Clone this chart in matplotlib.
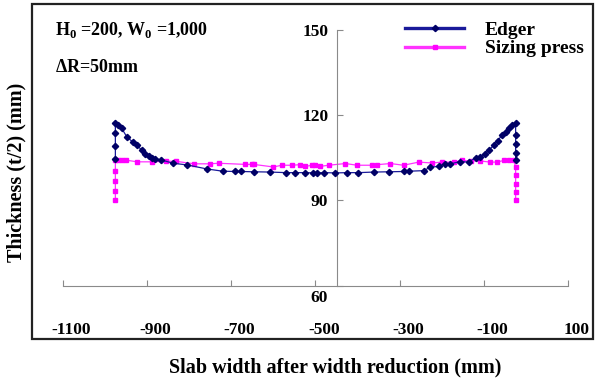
import matplotlib
matplotlib.use('Agg')
import matplotlib.pyplot as plt
from matplotlib.patches import Rectangle
from matplotlib.transforms import ScaledTranslation

plt.rcParams['font.family'] = 'Liberation Serif'
plt.rcParams['font.weight'] = 'bold'
plt.rcParams['mathtext.fontset'] = 'custom'
plt.rcParams['mathtext.rm'] = 'Liberation Serif:bold'
plt.rcParams['mathtext.bf'] = 'Liberation Serif:bold'

# Edger profile (left edge -> right edge)
edger_x = [-975, -975, -975, -975, -968, -960, -948, -934, -923, -912, -904, -896,
           -888, -881, -867, -838, -804, -758, -720, -691, -677, -645, -607, -570,
           -548, -524, -505, -496, -479, -453, -425, -398, -362, -326, -291, -279,
           -243, -228, -208, -192, -180, -156, -136, -120, -109, -98, -89, -77,
           -68, -57, -49, -41, -33, -25, -25, -25, -25, -25]
edger_y = [104.5, 109.1, 113.6, 117.2, 116.6, 115.4, 112.4, 110.6, 109.4, 107.6, 106.5, 105.5,
           104.9, 104.7, 104.3, 103.1, 102.5, 101.1, 100.3, 100.2, 100.2, 100.1, 100.0, 99.8,
           99.8, 99.8, 99.7, 99.7, 99.8, 99.7, 99.8, 99.8, 100.0, 100.1, 100.2, 100.3,
           100.5, 101.7, 102.0, 102.9, 102.9, 103.7, 103.5, 105.1, 105.3, 106.5, 107.6, 109.4,
           111.0, 113.0, 114.2, 115.4, 116.5, 117.4, 113.0, 110.0, 106.8, 104.4]

# Sizing press profile
press_x = [-975, -975, -975, -975, -975, -968, -960, -950, -923, -888, -855, -832,
           -788, -751, -730, -667, -650, -647, -600, -580, -556, -536, -524, -508,
           -500, -489, -469, -429, -401, -366, -354, -322, -291, -255, -223, -200,
           -172, -152, -132, -109, -85, -69, -53, -41, -29, -25, -25, -25, -25, -25]
press_y = [90.1, 93.4, 97.0, 100.5, 104.3, 104.3, 104.2, 104.2, 103.6, 103.6, 103.8, 103.8,
           102.9, 102.9, 103.1, 102.7, 102.7, 102.7, 101.8, 102.4, 102.4, 102.6, 102.0, 102.4,
           102.4, 102.0, 102.4, 103.0, 102.4, 102.4, 102.6, 103.0, 102.4, 103.5, 103.2, 103.5,
           103.5, 104.1, 103.9, 103.9, 103.5, 103.5, 104.1, 104.1, 104.1, 101.8, 98.8, 95.9, 92.9, 90.1]

xticks = [-1100, -900, -700, -500, -300, -100, 100]
yticks = [90, 120, 150]

fig = plt.figure(figsize=(5.95, 3.83), dpi=100)
ax = fig.add_axes([0.1054, 0.2539, 0.8497, 0.6679])

ax.plot(edger_x, edger_y, color='#1a1a9a', lw=0.9, marker='D', ms=3.2,
        mfc='#000066', mec='#000066', label='Edger', zorder=3)
ax.plot(press_x, press_y, color='#ff33ff', lw=0.9, marker='s', ms=3.2,
        mfc='#ff00ff', mec='#ff00ff', label='Sizing press', zorder=2)

ax.set_xlim(-1100, 100)
ax.set_ylim(60, 150)
for s in ['top', 'right']:
    ax.spines[s].set_visible(False)
ax.spines['left'].set_position(('data', -450))
ax.spines['left'].set_color('#8a8a8a')
ax.spines['bottom'].set_color('#8a8a8a')

ax.set_xticks(xticks)
ax.set_xticklabels([str(v) for v in xticks])
ax.set_yticks([60] + yticks)
ax.set_yticklabels([''] + [str(v) for v in yticks])
ax.tick_params(axis='x', direction='in', length=4, color='#8a8a8a', pad=26, labelsize=12.5)
ax.tick_params(axis='y', direction='in', length=4, color='#8a8a8a', pad=6, labelsize=12.5)
shift = ScaledTranslation(6 / 72, 0, fig.dpi_scale_trans)
for lab in ax.get_xticklabels():
    lab.set_transform(lab.get_transform() + shift)
ax.annotate('60', xy=(-450, 60), xytext=(-6, -3), textcoords='offset points',
            ha='right', va='top', fontsize=12.5, annotation_clip=False)

fig.text(0.092, 0.922, r'H$_{0}$ =200, W$_{0}$ =1,000', fontsize=13, va='center')
fig.text(0.092, 0.825, r'$\Delta$R=50mm', fontsize=13, va='center')

leg = ax.legend(loc='upper left', bbox_to_anchor=(0.665, 0.97), bbox_transform=fig.transFigure,
                frameon=False, fontsize=14, numpoints=1, handlelength=3.0,
                handletextpad=1.1, labelspacing=0.05, borderpad=0)
for ln in leg.get_lines():
    ln.set_linewidth(2.4)

fig.text(0.028, 0.551, 'Thickness (t/2) (mm)', rotation=90, ha='center', va='center', fontsize=14.5)
fig.text(0.563, 0.04, 'Slab width after width reduction (mm)', ha='center', va='center', fontsize=14.5)

fig.patches.append(Rectangle((0.0543, 0.115), 0.9415, 0.8747, transform=fig.transFigure,
                             fill=False, lw=1.6, ec='#222222'))

fig.savefig('out.png', dpi=100)
